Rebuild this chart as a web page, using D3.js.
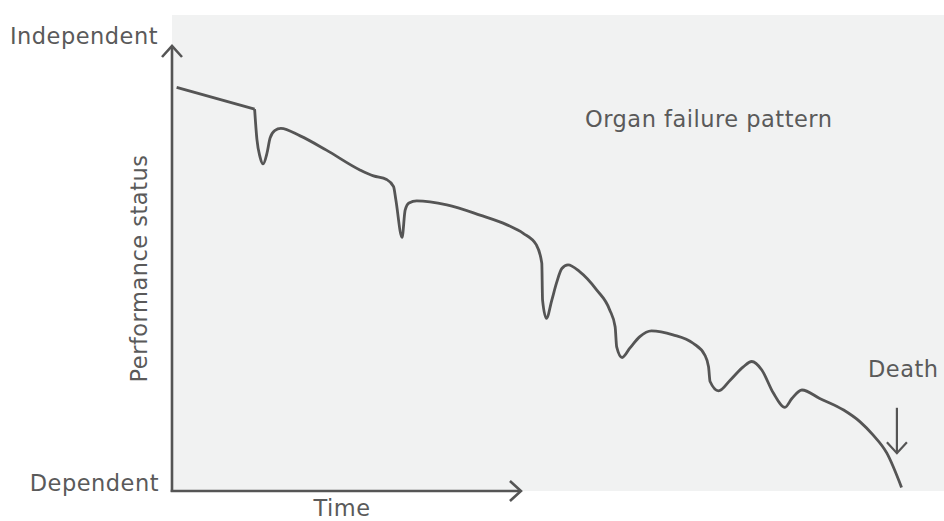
<!DOCTYPE html>
<html>
<head>
<meta charset="utf-8">
<script src="https://cdn.jsdelivr.net/npm/d3@7/dist/d3.min.js"></script>
<style>
  html, body { margin: 0; padding: 0; background: #ffffff; }
  svg { display: block; }
  text { font-family: "DejaVu Sans", sans-serif; fill: #5a5a5a; }
</style>
</head>
<body>
<svg id="chart" width="944" height="521"></svg>
<script>
// ---- Data (time 0-100, performance status 0-100) ----
const curveTime = [0.6, 10.7, 11.0, 11.4, 11.8, 12.3, 12.7, 13.3, 14.1, 16.6, 20.0, 24.4, 26.1, 27.8, 28.7, 29.0, 29.8, 30.2, 30.7, 31.7, 35.6, 39.9, 43.4, 45.5, 47.2, 47.9, 48.0, 48.5, 49.2, 49.8, 50.5, 51.3, 52.8, 55.0, 56.7, 57.4, 57.6, 58.3, 59.3, 60.6, 62.1, 64.9, 67.5, 69.0, 69.5, 69.7, 70.8, 72.3, 74.0, 75.1, 76.4, 77.9, 79.4, 80.3, 81.6, 83.9, 87.0, 89.1, 90.8, 92.6, 94.5];
const curveStatus = [90.7, 85.8, 79.0, 75.1, 73.5, 75.9, 79.3, 81.0, 81.5, 79.8, 76.6, 72.1, 70.8, 70.0, 68.4, 65.4, 57.0, 63.1, 64.7, 65.2, 64.3, 62.0, 59.8, 57.9, 55.3, 51.2, 42.9, 38.8, 42.9, 46.7, 50.0, 50.8, 49.3, 45.2, 40.7, 36.9, 32.4, 30.0, 32.1, 34.7, 36.0, 35.1, 33.2, 30.6, 27.9, 24.6, 22.5, 24.9, 27.9, 29.1, 27.2, 22.0, 18.8, 20.8, 22.7, 20.8, 18.2, 15.6, 12.6, 8.5, 0.8];
const yAxisLabels = ["Dependent", "Independent"];
const xAxisLabel = "Time";
const yAxisTitle = "Performance status";
const patternLabel = "Organ failure pattern";
const deathLabel = "Death";
const timeAxisEnd = 45.2;   // how far the time arrow reaches
const deathTime = 93.9;     // death marker position
const deathArrow = [18.7, 8.5]; // death arrow from/to status

const svg = d3.select("#chart");
const W = 944, H = 521;
const margin = { left: 172, right: 0, top: 46, bottom: 30 };

const x = d3.scaleLinear().domain([0, 100]).range([margin.left, W - margin.right]);
const y = d3.scaleLinear().domain([0, 100]).range([H - margin.bottom, margin.top]);

const ink = "#555555";

// background panel
svg.append("rect")
  .attr("x", x(0)).attr("y", y(100) - 31)
  .attr("width", x(100) - x(0))
  .attr("height", y(0) - y(100) + 31)
  .attr("fill", "#f1f2f2");

// curve
const pts = curveTime.map((t, i) => [t, curveStatus[i]]);
svg.append("path")
  .datum(pts.slice(0, 2))
  .attr("d", d3.line().x(d => x(d[0])).y(d => y(d[1])).curve(d3.curveLinear))
  .attr("fill", "none").attr("stroke", ink).attr("stroke-width", 2.8);
svg.append("path")
  .datum(pts.slice(1))
  .attr("d", d3.line().x(d => x(d[0])).y(d => y(d[1])).curve(d3.curveMonotoneX))
  .attr("fill", "none").attr("stroke", ink).attr("stroke-width", 2.8)
  .attr("stroke-linejoin", "round");

// axes with arrows
const ax = svg.append("g").attr("fill", "none").attr("stroke", ink)
  .attr("stroke-width", 2.6).attr("stroke-linecap", "butt");
ax.append("line").attr("x1", x(0)).attr("y1", y(0) + 1).attr("x2", x(0)).attr("y2", y(100));
ax.append("polyline").attr("points",
  [[x(0) - 10, y(100) + 11], [x(0), y(100)], [x(0) + 10, y(100) + 11]].join(" "));
ax.append("line").attr("x1", x(0) - 1.3).attr("y1", y(0)).attr("x2", x(timeAxisEnd)).attr("y2", y(0));
ax.append("polyline").attr("points",
  [[x(timeAxisEnd) - 11, y(0) - 10], [x(timeAxisEnd), y(0)], [x(timeAxisEnd) - 11, y(0) + 10]].join(" "));

// death arrow
const da = svg.append("g").attr("fill", "none").attr("stroke", ink).attr("stroke-width", 2.2);
da.append("line").attr("x1", x(deathTime)).attr("y1", y(deathArrow[0]))
  .attr("x2", x(deathTime)).attr("y2", y(deathArrow[1]));
da.append("polyline").attr("points",
  [[x(deathTime) - 10, y(deathArrow[1]) - 11], [x(deathTime), y(deathArrow[1])], [x(deathTime) + 10, y(deathArrow[1]) - 11]].join(" "));

// texts
const fs = 22.5, ls = 0.5;
function label(str) {
  return svg.append("text").text(str).attr("font-size", fs).attr("letter-spacing", ls);
}
label(yAxisLabels[1]).attr("x", x(0) - 14).attr("y", y(100) - 2).attr("text-anchor", "end");
label(yAxisLabels[0]).attr("x", x(0) - 13).attr("y", y(0)).attr("text-anchor", "end");
label(xAxisLabel).attr("x", 342).attr("y", 516).attr("text-anchor", "middle");
label(yAxisTitle)
  .attr("transform", `translate(147, ${y(50)}) rotate(-90)`)
  .attr("text-anchor", "middle");
label(patternLabel).attr("x", 585).attr("y", 127);
label(deathLabel).attr("x", 868).attr("y", 377);
</script>
</body>
</html>
